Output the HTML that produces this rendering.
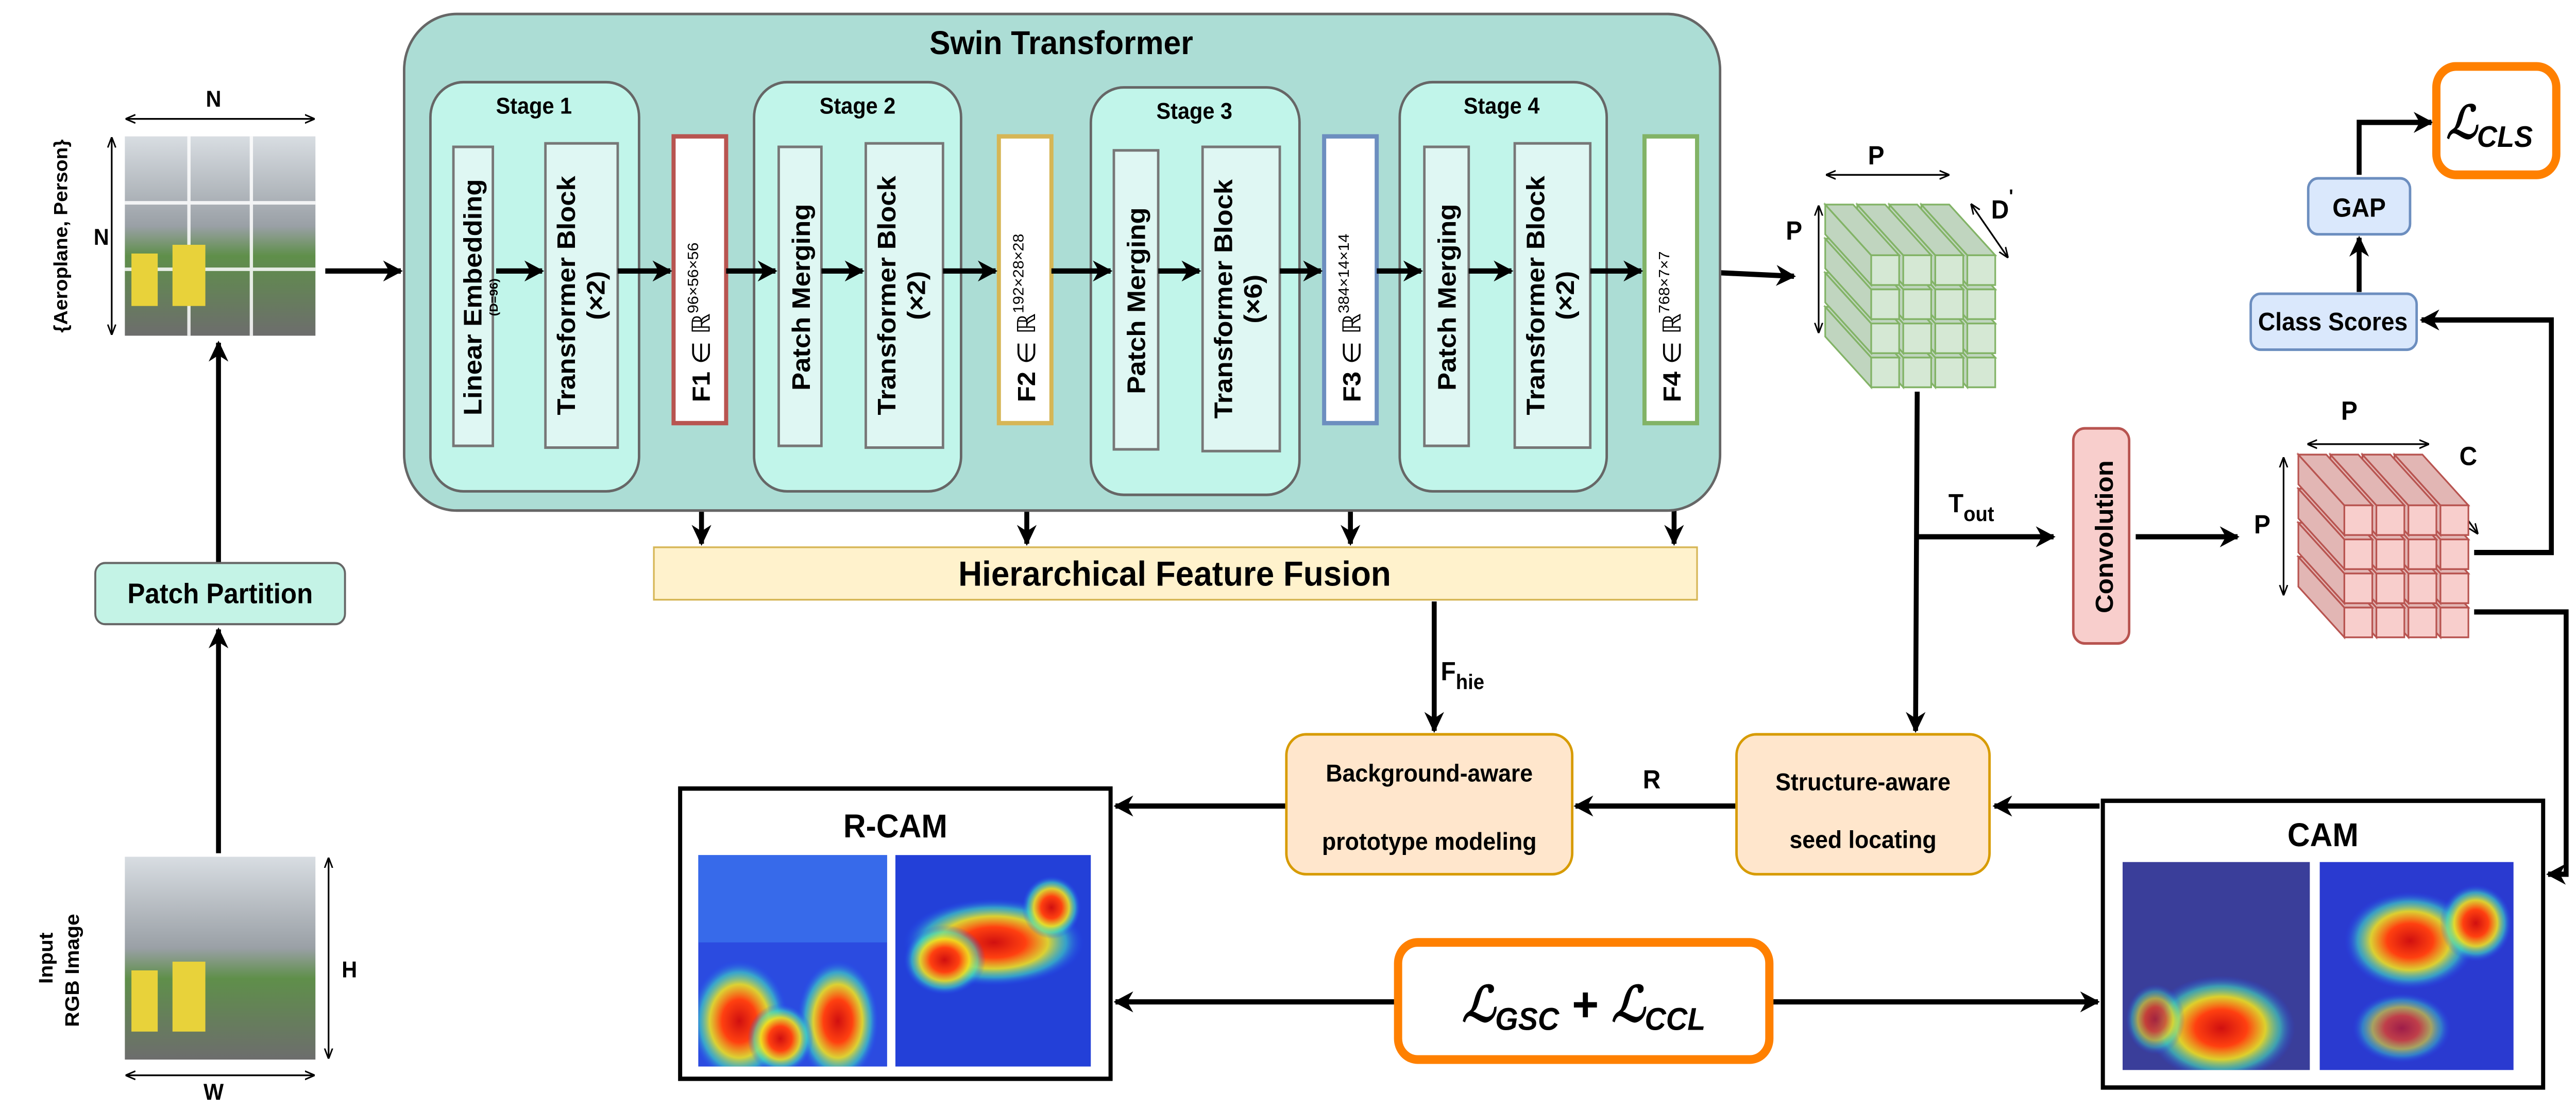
<!DOCTYPE html>
<html><head><meta charset="utf-8">
<style>
html,body{margin:0;padding:0;background:#fff;width:100%;height:100%;overflow:hidden;}
svg#s{display:block;position:fixed;left:0;top:0;width:100vw;height:100vh;}
text{font-family:"Liberation Sans",Arial,sans-serif;font-weight:bold;fill:#000;}
.n{font-family:"Liberation Sans Narrow","Liberation Sans",sans-serif;}
</style></head><body>
<svg id="s" xmlns="http://www.w3.org/2000/svg" viewBox="0 0 1568 633.7" preserveAspectRatio="none">
<defs>
<marker id="a" viewBox="0 0 10 10" refX="9" refY="5" markerWidth="4" markerHeight="4" orient="auto-start-reverse"><path d="M0,0 L10,5 L0,10 L3,5z" fill="#000"/></marker>
<marker id="t" viewBox="0 0 10 10" refX="9" refY="5" markerWidth="6" markerHeight="6" orient="auto-start-reverse"><path d="M0,1 L10,5 L0,9" fill="none" stroke="#000" stroke-width="1.5"/></marker>
<radialGradient id="hot"><stop offset="0" stop-color="#d01010"/><stop offset="0.35" stop-color="#ff4010"/><stop offset="0.6" stop-color="#f0e020" stop-opacity="0.9"/><stop offset="0.8" stop-color="#40e0c0" stop-opacity="0.6"/><stop offset="1" stop-color="#2040ff" stop-opacity="0"/></radialGradient>
<linearGradient id="photo" x1="0" y1="0" x2="0" y2="1"><stop offset="0" stop-color="#d8dde2"/><stop offset="0.45" stop-color="#9aa0a6"/><stop offset="0.6" stop-color="#5f8f4a"/><stop offset="1" stop-color="#6d6d6d"/></linearGradient>
<clipPath id="c1"><rect x="425" y="489" width="115" height="121"/></clipPath>
<clipPath id="c2"><rect x="545" y="489" width="119" height="121"/></clipPath>
<clipPath id="c3"><rect x="1292" y="493" width="114" height="119"/></clipPath>
<clipPath id="c4"><rect x="1412" y="493" width="118" height="119"/></clipPath>
</defs>
<g stroke="#000" stroke-width="3" fill="none" marker-end="url(#a)">
<line x1="198" y1="155" x2="244" y2="155"/>
<line x1="133" y1="322" x2="133" y2="196"/>
<line x1="133" y1="488" x2="133" y2="360"/>
<line x1="1047" y1="156" x2="1092" y2="158"/>
<line x1="427" y1="243" x2="427" y2="311"/>
<line x1="625" y1="243" x2="625" y2="311"/>
<line x1="822" y1="243" x2="822" y2="311"/>
<line x1="1019" y1="243" x2="1019" y2="311"/>
<line x1="873" y1="344" x2="873" y2="418"/>
<line x1="1167" y1="224" x2="1166" y2="418"/>
<line x1="1167" y1="307" x2="1250" y2="307"/>
<line x1="1300" y1="307" x2="1362" y2="307"/>
<polyline points="1506,316 1553,316 1553,183 1474,183"/>
<polyline points="1506,350 1562,350 1562,500 1551,500"/>
<line x1="1436" y1="167" x2="1436" y2="136"/>
<polyline points="1436,100 1436,70 1480,70"/>
<line x1="1278" y1="461" x2="1214" y2="461"/>
<line x1="1057" y1="461" x2="959" y2="461"/>
<line x1="783" y1="461" x2="679" y2="461"/>
<line x1="851" y1="573" x2="679" y2="573"/>
<line x1="1077" y1="573" x2="1277" y2="573"/>
</g>
<rect x="246" y="8" width="801" height="284" rx="32" fill="#acddd5" stroke="#666" stroke-width="1.5"/>
<text x="646" y="31" font-size="19" text-anchor="middle" class="n">Swin Transformer</text>
<g fill="#c1f5ea" stroke="#666" stroke-width="1.5">
<rect x="262" y="47" width="127" height="234" rx="20"/>
<rect x="459" y="47" width="126" height="234" rx="20"/>
<rect x="664" y="50" width="127" height="233" rx="20"/>
<rect x="852" y="47" width="126" height="234" rx="20"/>
</g>
<g font-size="13" text-anchor="middle" class="n">
<text x="325" y="65">Stage 1</text><text x="522" y="65">Stage 2</text><text x="727" y="68">Stage 3</text><text x="914" y="65">Stage 4</text>
</g>
<g fill="#dff7f3" stroke="#777" stroke-width="1.5">
<rect x="276" y="84" width="24" height="171"/><rect x="332" y="82" width="44" height="174"/>
<rect x="474" y="84" width="26" height="171"/><rect x="527" y="82" width="47" height="174"/>
<rect x="678" y="86" width="27" height="171"/><rect x="732" y="84" width="47" height="174"/>
<rect x="867" y="84" width="27" height="171"/><rect x="922" y="82" width="46" height="174"/>
</g>
<g font-size="15.5">
<text transform="translate(293,170) rotate(-90)" text-anchor="middle">Linear Embedding</text>
<text transform="translate(303,170) rotate(-90)" text-anchor="middle" font-size="7">(D=96)</text>
<text transform="translate(350,169) rotate(-90)" text-anchor="middle">Transformer Block</text>
<text transform="translate(368,169) rotate(-90)" text-anchor="middle">(×2)</text>
<text transform="translate(493,170) rotate(-90)" text-anchor="middle">Patch Merging</text>
<text transform="translate(545,169) rotate(-90)" text-anchor="middle">Transformer Block</text>
<text transform="translate(563,169) rotate(-90)" text-anchor="middle">(×2)</text>
<text transform="translate(697,172) rotate(-90)" text-anchor="middle">Patch Merging</text>
<text transform="translate(750,171) rotate(-90)" text-anchor="middle">Transformer Block</text>
<text transform="translate(768,171) rotate(-90)" text-anchor="middle">(×6)</text>
<text transform="translate(886,170) rotate(-90)" text-anchor="middle">Patch Merging</text>
<text transform="translate(940,169) rotate(-90)" text-anchor="middle">Transformer Block</text>
<text transform="translate(958,169) rotate(-90)" text-anchor="middle">(×2)</text>
</g>
<g fill="#fff" stroke-width="2.5">
<rect x="410" y="78" width="32" height="164" stroke="#b85450"/>
<rect x="608" y="78" width="32" height="164" stroke="#d6b656"/>
<rect x="806" y="78" width="32" height="164" stroke="#6c8ebf"/>
<rect x="1001" y="78" width="32" height="164" stroke="#82b366"/>
</g>
<g font-size="15">
<text transform="translate(432,230) rotate(-90)">F1 <tspan font-weight="normal">∈ ℝ</tspan><tspan font-size="9" font-weight="normal" dy="-7">96×56×56</tspan></text>
<text transform="translate(630,230) rotate(-90)">F2 <tspan font-weight="normal">∈ ℝ</tspan><tspan font-size="9" font-weight="normal" dy="-7">192×28×28</tspan></text>
<text transform="translate(828,230) rotate(-90)">F3 <tspan font-weight="normal">∈ ℝ</tspan><tspan font-size="9" font-weight="normal" dy="-7">384×14×14</tspan></text>
<text transform="translate(1023,230) rotate(-90)">F4 <tspan font-weight="normal">∈ ℝ</tspan><tspan font-size="9" font-weight="normal" dy="-7">768×7×7</tspan></text>
</g>
<g stroke="#000" stroke-width="3" marker-end="url(#a)">
<line x1="302" y1="155" x2="330" y2="155"/><line x1="376" y1="155" x2="408" y2="155"/>
<line x1="442" y1="155" x2="472" y2="155"/><line x1="500" y1="155" x2="525" y2="155"/>
<line x1="574" y1="155" x2="606" y2="155"/><line x1="640" y1="155" x2="676" y2="155"/>
<line x1="705" y1="155" x2="730" y2="155"/><line x1="779" y1="155" x2="804" y2="155"/>
<line x1="838" y1="155" x2="865" y2="155"/><line x1="894" y1="155" x2="920" y2="155"/>
<line x1="968" y1="155" x2="999" y2="155"/>
</g>
<rect x="398" y="313" width="635" height="30" fill="#fff2cc" stroke="#d6b656" stroke-width="1"/>
<text x="715" y="335" font-size="20" text-anchor="middle">Hierarchical Feature Fusion</text>
<rect x="76" y="78" width="116" height="114" fill="url(#photo)"/>
<g stroke="#fff" stroke-width="2" opacity="0.85"><line x1="115" y1="78" x2="115" y2="192"/><line x1="153" y1="78" x2="153" y2="192"/><line x1="76" y1="116" x2="192" y2="116"/><line x1="76" y1="154" x2="192" y2="154"/></g>
<g fill="#e8d23a"><rect x="80" y="145" width="16" height="30"/><rect x="105" y="140" width="20" height="35"/></g>
<rect x="76" y="490" width="116" height="116" fill="url(#photo)"/>
<g fill="#e8d23a"><rect x="80" y="555" width="16" height="35"/><rect x="105" y="550" width="20" height="40"/></g>
<g stroke="#000" stroke-width="1" marker-start="url(#t)" marker-end="url(#t)">
<line x1="77" y1="68" x2="191" y2="68"/><line x1="68" y1="79" x2="68" y2="191"/>
<line x1="200" y1="491" x2="200" y2="605"/><line x1="77" y1="615" x2="191" y2="615"/>
<line x1="1112" y1="100" x2="1186" y2="100"/><line x1="1107" y1="118" x2="1107" y2="190"/>
<line x1="1200" y1="117" x2="1222" y2="147"/>
<line x1="1405" y1="254" x2="1478" y2="254"/><line x1="1390" y1="262" x2="1390" y2="340"/>
<line x1="1485" y1="275" x2="1508" y2="305"/>
</g>
<g font-size="13">
<text x="130" y="61" text-anchor="middle">N</text><text x="57" y="140">N</text>
<text x="208" y="559">H</text><text x="130" y="629" text-anchor="middle">W</text>
<text transform="translate(41,135) rotate(-90)" text-anchor="middle" font-size="11.5">{Aeroplane, Person}</text>
<text transform="translate(32,548) rotate(-90)" text-anchor="middle" font-size="12">Input</text>
<text transform="translate(48,555) rotate(-90)" text-anchor="middle" font-size="12">RGB Image</text>
</g>
<rect x="58" y="322" width="152" height="35" rx="6" fill="#c4f3e6" stroke="#666" stroke-width="1.2"/>
<text x="134" y="345" font-size="16" text-anchor="middle">Patch Partition</text>
<g id="cubes"></g>
<g font-size="15" class="n">
<text x="1137" y="94">P</text><text x="1087" y="137">P</text><text x="1212" y="125">D<tspan font-size="11" dy="-9">'</tspan></text>
<text x="1425" y="240">P</text><text x="1372" y="305">P</text><text x="1497" y="266">C</text>
<text x="1186" y="293">T<tspan font-size="12" dy="5">out</tspan></text>
<text x="877" y="389">F<tspan font-size="12" dy="5">hie</tspan></text>
<text x="1000" y="451">R</text>
</g>
<rect x="1262" y="245" width="34" height="123" rx="7" fill="#f8cecc" stroke="#b85450" stroke-width="1.5"/>
<text transform="translate(1286,307) rotate(-90)" font-size="15" text-anchor="middle">Convolution</text>
<rect x="1370" y="168" width="101" height="32" rx="6" fill="#dae8fc" stroke="#6c8ebf" stroke-width="1.5"/>
<text x="1420" y="189" font-size="14.5" text-anchor="middle" class="n">Class Scores</text>
<rect x="1405" y="102" width="62" height="32" rx="6" fill="#dae8fc" stroke="#6c8ebf" stroke-width="1.5"/>
<text x="1436" y="124" font-size="15" text-anchor="middle" class="n">GAP</text>
<rect x="1483" y="38" width="73" height="62" rx="12" fill="#fff" stroke="#ff8000" stroke-width="5"/>
<text x="1489" y="79" font-family="Liberation Serif,serif" font-style="italic" font-weight="normal" font-size="26">ℒ<tspan font-size="17" dy="5">CLS</tspan></text>
<rect x="851" y="539" width="226" height="67" rx="12" fill="#fff" stroke="#ff8000" stroke-width="5"/>
<text x="964" y="584" text-anchor="middle" font-family="Liberation Serif,serif" font-style="italic" font-weight="normal" font-size="28">ℒ<tspan font-size="18" dy="5">GSC</tspan><tspan dy="-5" font-style="normal"> + </tspan>ℒ<tspan font-size="18" dy="5">CCL</tspan></text>
<rect x="1057" y="420" width="154" height="80" rx="12" fill="#ffe6cc" stroke="#d79b00" stroke-width="1.5"/>
<text x="1134" y="452" font-size="14" text-anchor="middle">Structure-aware</text>
<text x="1134" y="485" font-size="14" text-anchor="middle">seed locating</text>
<rect x="783" y="420" width="174" height="80" rx="12" fill="#ffe6cc" stroke="#d79b00" stroke-width="1.5"/>
<text x="870" y="447" font-size="14" text-anchor="middle">Background-aware</text>
<text x="870" y="486" font-size="14" text-anchor="middle">prototype modeling</text>
<rect x="414" y="451" width="262" height="166" fill="#fff" stroke="#000" stroke-width="2.5"/>
<text x="545" y="479" font-size="19" text-anchor="middle">R-CAM</text>
<rect x="1280" y="458" width="268" height="164" fill="#fff" stroke="#000" stroke-width="2.5"/>
<text x="1414" y="484" font-size="19" text-anchor="middle">CAM</text>
<g clip-path="url(#c1)"><rect x="425" y="489" width="115" height="121" fill="#2b4be0"/><rect x="425" y="489" width="115" height="50" fill="#3f7ef0" opacity="0.6"/><ellipse cx="450" cy="584" rx="30" ry="35" fill="url(#hot)"/><ellipse cx="510" cy="584" rx="25" ry="35" fill="url(#hot)"/><ellipse cx="475" cy="594" rx="20" ry="20" fill="url(#hot)"/></g>
<g clip-path="url(#c2)"><rect x="545" y="489" width="119" height="121" fill="#2340d8"/><ellipse cx="605" cy="539" rx="55" ry="25" fill="url(#hot)"/><ellipse cx="575" cy="549" rx="25" ry="20" fill="url(#hot)"/><ellipse cx="640" cy="519" rx="18" ry="18" fill="url(#hot)"/></g>
<g clip-path="url(#c3)"><rect x="1292" y="493" width="114" height="119" fill="#3a3e9a"/><ellipse cx="1352" cy="588" rx="45" ry="30" fill="url(#hot)"/><ellipse cx="1312" cy="583" rx="18" ry="20" fill="url(#hot)" opacity="0.7"/></g>
<g clip-path="url(#c4)"><rect x="1412" y="493" width="118" height="119" fill="#2a3ad0"/><ellipse cx="1467" cy="538" rx="40" ry="28" fill="url(#hot)"/><ellipse cx="1507" cy="528" rx="22" ry="22" fill="url(#hot)"/><ellipse cx="1462" cy="588" rx="30" ry="20" fill="url(#hot)" opacity="0.7"/></g>
</svg>
<script>
(function(){
var g=document.getElementById('cubes'),ns='http://www.w3.org/2000/svg';
function poly(pts,f,s){var p=document.createElementNS(ns,'polygon');p.setAttribute('points',pts.map(function(q){return q[0]+','+q[1]}).join(' '));p.setAttribute('fill',f);p.setAttribute('stroke',s);p.setAttribute('stroke-width','1');g.appendChild(p);}
function cube(x0,y0,sp,s,front,side,st){
 var dx=-28,dy=-29;
 for(var r=3;r>=0;r--)for(var c=3;c>=0;c--){
  var x=x0+c*sp,y=y0+r*sp;
  poly([[x,y],[x,y+s],[x+dx,y+s+dy],[x+dx,y+dy]],side,st);
  poly([[x,y],[x+s,y],[x+s+dx,y+dy],[x+dx,y+dy]],side,st);
  poly([[x,y],[x+s,y],[x+s,y+s],[x,y+s]],front,st);
 }}
cube(1139,146,19.5,17,'#d5e8d4','#c0d5bf','#82b366');
cube(1427,289,19.5,17,'#f8cecc','#e2b6b4','#b85450');
})();
</script>
</body></html>
